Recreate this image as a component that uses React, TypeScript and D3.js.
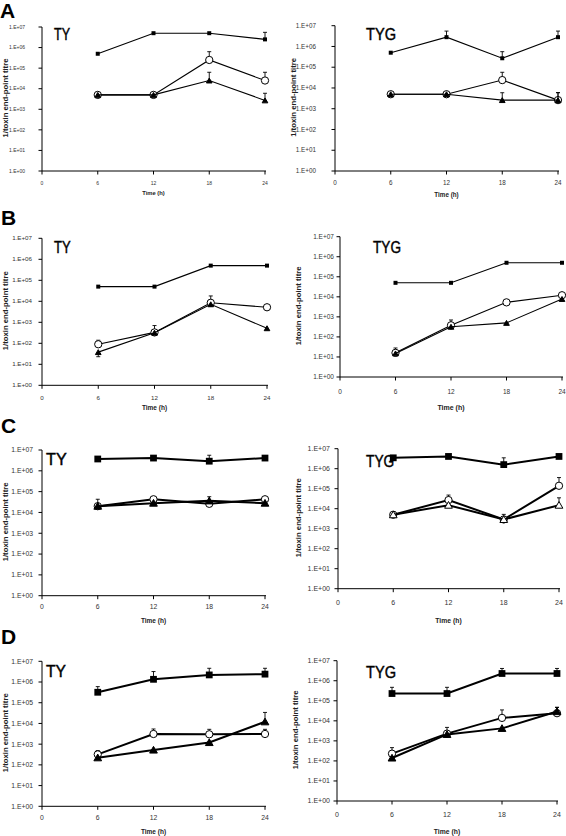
import React from "react";
import * as d3 from "d3";

// ---------- data ----------
const times = [6, 12, 18, 24];
const xTicks = [0, 6, 12, 18, 24];
const yTickExps = [0, 1, 2, 3, 4, 5, 6, 7];
const yTickLabels = ["1.E+00", "1.E+01", "1.E+02", "1.E+03", "1.E+04", "1.E+05", "1.E+06", "1.E+07"];

// Panel A
const A_TY_sq = [5e5, 5e6, 5e6, 2.5e6];
const A_TY_sqErr = [null, null, null, 5.5e6];
const A_TY_ci = [5e3, 5e3, 2.5e5, 2.5e4];
const A_TY_ciErr = [null, null, 6.3e5, 6.3e4];
const A_TY_tr = [5e3, 5e3, 2.5e4, 2.7e3];
const A_TY_trErr = [null, null, 6.3e4, 6e3];

const A_TYG_sq = [5e5, 2.8e6, 2.7e5, 2.8e6];
const A_TYG_sqErr = [null, 5.5e6, 5.6e5, 5.5e6];
const A_TYG_ci = [5e3, 5e3, 2.4e4, 2.6e3];
const A_TYG_ciErr = [null, null, 5.7e4, 6e3];
const A_TYG_tr = [5e3, 5e3, 2.6e3, 2.6e3];
const A_TYG_trErr = [null, null, 5.9e3, 5.9e3];

// Panel B
const B_TY_sq = [5e4, 5e4, 5e5, 5e5];
const B_TY_sqErr = [null, null, null, null];
const B_TY_ci = [9e1, 3.3e2, 8.5e3, 5.2e3];
const B_TY_ciErr = [1.4e2, 7e2, 1.8e4, null];
const B_TY_tr = [3.8e1, 3.2e2, 7.2e3, 5.2e2];
const B_TY_trErr = [2.3e1, null, null, null];

const B_TYG_sq = [5e4, 5e4, 5e5, 5e5];
const B_TYG_sqErr = [null, null, null, null];
const B_TYG_ci = [1.6e1, 3.8e2, 5.3e3, 1.2e4];
const B_TYG_ciErr = [2.8e1, 7e2, null, 1.6e4];
const B_TYG_tr = [1.5e1, 3.2e2, 5e2, 7.8e3];
const B_TYG_trErr = [null, null, null, null];

// Panel C
const C_TY_sq = [3.7e6, 4.1e6, 2.9e6, 4.1e6];
const C_TY_sqErr = [null, null, 5.6e6, null];
const C_TY_ci = [2e4, 4.3e4, 2.6e4, 4.3e4];
const C_TY_ciErr = [null, null, null, null];
const C_TY_tr = [2e4, 2.8e4, 3.6e4, 2.8e4];
const C_TY_trErr = [4.3e4, null, 5.7e4, null];

const C_TYG_sq = [3.5e6, 4.1e6, 1.6e6, 4.1e6];
const C_TYG_sqErr = [null, null, 3.5e6, null];
const C_TYG_ci = [5e3, 2.7e4, 2.9e3, 1.4e5];
const C_TYG_ciErr = [null, 4.8e4, 5.2e3, 3.6e5];
const C_TYG_tr = [5e3, 1.5e4, 2.9e3, 1.5e4];
const C_TYG_trErr = [null, null, null, 3.5e4];

// Panel D
const D_TY_sq = [3.2e5, 1.35e6, 2.2e6, 2.4e6];
const D_TY_sqErr = [6e5, 3.2e6, 4.6e6, 4.6e6];
const D_TY_ci = [3.2e2, 3.1e3, 3e3, 3.1e3];
const D_TY_ciErr = [4.9e2, 5.4e3, 5.2e3, 5.2e3];
const D_TY_tr = [2.2e2, 5.2e2, 1.2e3, 1.2e4];
const D_TY_trErr = [null, null, null, 3.4e4];

const D_TYG_sq = [2.3e5, 2.3e5, 2.3e6, 2.3e6];
const D_TYG_sqErr = [4.7e5, 4.7e5, 4.1e6, 4.1e6];
const D_TYG_ci = [2.3e2, 2.3e3, 1.4e4, 2.4e4];
const D_TYG_ciErr = [4.6e2, 4.7e3, 3.5e4, 4.7e4];
const D_TYG_tr = [1.4e2, 2.1e3, 4.2e3, 2.9e4];
const D_TYG_trErr = [null, null, null, 4.7e4];

const panelLetters = ["A", "B", "C", "D"];
const xTitle = "Time (h)";
const yTitle = "1/toxin end-point titre";

// ---------- layout ----------
type Panel = {
  title: string;
  x0: number; x1: number; yTop: number; yBot: number;
  labelRight: number; tickFont: number; xLabelY: number; timeY: number; timeFont: number;
  yLabelX: number; titleX: number; titleY: number; titleW: number;
  big: boolean; openTri: boolean;
  sq: number[]; sqErr: (number | null)[];
  ci: number[]; ciErr: (number | null)[];
  tr: number[]; trErr: (number | null)[];
};

const panels: Panel[] = [
  { title: "TY", x0: 42, x1: 265, yTop: 27, yBot: 171, labelRight: 25, tickFont: 5, xLabelY: 184.5, timeY: 195, timeFont: 5.8, yLabelX: 8.3, titleX: 54, titleY: 40, titleW: 16, big: false, openTri: false,
    sq: A_TY_sq, sqErr: A_TY_sqErr, ci: A_TY_ci, ciErr: A_TY_ciErr, tr: A_TY_tr, trErr: A_TY_trErr },
  { title: "TYG", x0: 335, x1: 558, yTop: 25.7, yBot: 171, labelRight: 316, tickFont: 6.3, xLabelY: 185, timeY: 196.5, timeFont: 6.3, yLabelX: 296, titleX: 366, titleY: 40, titleW: 30, big: false, openTri: false,
    sq: A_TYG_sq, sqErr: A_TYG_sqErr, ci: A_TYG_ci, ciErr: A_TYG_ciErr, tr: A_TYG_tr, trErr: A_TYG_trErr },
  { title: "TY", x0: 42, x1: 267, yTop: 238.3, yBot: 385.3, labelRight: 32, tickFont: 6.2, xLabelY: 400, timeY: 409.5, timeFont: 6.5, yLabelX: 8.3, titleX: 54, titleY: 253, titleW: 16.7, big: false, openTri: false,
    sq: B_TY_sq, sqErr: B_TY_sqErr, ci: B_TY_ci, ciErr: B_TY_ciErr, tr: B_TY_tr, trErr: B_TY_trErr },
  { title: "TYG", x0: 340, x1: 562, yTop: 236.7, yBot: 377, labelRight: 334, tickFont: 6.5, xLabelY: 394, timeY: 410, timeFont: 7, yLabelX: 301, titleX: 373, titleY: 253, titleW: 28, big: false, openTri: false,
    sq: B_TYG_sq, sqErr: B_TYG_sqErr, ci: B_TYG_ci, ciErr: B_TYG_ciErr, tr: B_TYG_tr, trErr: B_TYG_trErr },
  { title: "TY", x0: 42, x1: 265, yTop: 450, yBot: 595.7, labelRight: 33, tickFont: 6.8, xLabelY: 609, timeY: 623, timeFont: 6.5, yLabelX: 8.3, titleX: 46, titleY: 465, titleW: 20.7, big: true, openTri: false,
    sq: C_TY_sq, sqErr: C_TY_sqErr, ci: C_TY_ci, ciErr: C_TY_ciErr, tr: C_TY_tr, trErr: C_TY_trErr },
  { title: "TYG", x0: 338, x1: 559, yTop: 448.7, yBot: 588.7, labelRight: 330, tickFont: 7, xLabelY: 605, timeY: 622.5, timeFont: 6.8, yLabelX: 301, titleX: 366, titleY: 467, titleW: 28.3, big: true, openTri: true,
    sq: C_TYG_sq, sqErr: C_TYG_sqErr, ci: C_TYG_ci, ciErr: C_TYG_ciErr, tr: C_TYG_tr, trErr: C_TYG_trErr },
  { title: "TY", x0: 42, x1: 265, yTop: 661.3, yBot: 806.3, labelRight: 33, tickFont: 6.8, xLabelY: 820, timeY: 833.5, timeFont: 6.5, yLabelX: 8.3, titleX: 46, titleY: 677, titleW: 20, big: true, openTri: false,
    sq: D_TY_sq, sqErr: D_TY_sqErr, ci: D_TY_ci, ciErr: D_TY_ciErr, tr: D_TY_tr, trErr: D_TY_trErr },
  { title: "TYG", x0: 337, x1: 557, yTop: 660.7, yBot: 801, labelRight: 330, tickFont: 7, xLabelY: 817, timeY: 834, timeFont: 6.8, yLabelX: 298, titleX: 366, titleY: 678, titleW: 30, big: true, openTri: false,
    sq: D_TYG_sq, sqErr: D_TYG_sqErr, ci: D_TYG_ci, ciErr: D_TYG_ciErr, tr: D_TYG_tr, trErr: D_TYG_trErr },
];

const letterPos = [
  { x: 0, y: 18 },
  { x: 1, y: 225 },
  { x: 1, y: 433 },
  { x: 1, y: 644 },
];

const FONT = "'Liberation Sans', Arial, sans-serif";

function Series({ p, vals, errs, kind, x, y }: any) {
  const pts = times.map((t, i) => [x(t), y(vals[i])] as [number, number]);
  const line = d3.line()(pts) || "";
  const lw = p.big ? 2 : 1.1;
  let type = d3.symbolSquare;
  let size = p.big ? 46 : 16;
  let fill = "#000";
  if (kind === "ci") { type = d3.symbolCircle; size = 42; fill = "#fff"; }
  if (kind === "tr") { type = d3.symbolTriangle; size = p.big ? 26 : 14; fill = p.openTri ? "#fff" : "#000"; }
  const sym = d3.symbol().type(type).size(size)() || "";
  return (
    <g>
      <path d={line} fill="none" stroke="#000" strokeWidth={lw} />
      {errs.map((e: number | null, i: number) =>
        e == null ? null : (
          <g key={i}>
            <line x1={x(times[i])} x2={x(times[i])} y1={y(vals[i])} y2={y(e)} stroke="#000" strokeWidth={0.9} />
            <line x1={x(times[i]) - 2} x2={x(times[i]) + 2} y1={y(e)} y2={y(e)} stroke="#000" strokeWidth={0.9} />
          </g>
        )
      )}
      {pts.map((pt, i) => (
        <path key={i} d={sym} transform={`translate(${pt[0]},${pt[1] + (kind === "tr" ? 0.8 : 0)})`} fill={fill} stroke="#000" strokeWidth={kind === "sq" ? 0 : 1} />
      ))}
    </g>
  );
}

function PanelView({ p }: { p: Panel }) {
  const x = d3.scaleLinear().domain([0, 24]).range([p.x0, p.x1]);
  const y = d3.scaleLog().domain([1, 1e7]).range([p.yBot, p.yTop]);
  const midY = (p.yTop + p.yBot) / 2 - 1;
  return (
    <g fontFamily={FONT}>
      {/* title */}
      <text x={p.titleX} y={p.titleY} fontSize={17} textLength={p.titleW} lengthAdjust="spacingAndGlyphs" fill="#000" stroke="#000" strokeWidth={0.45}>{p.title}</text>
      {/* axes */}
      <line x1={p.x0} x2={p.x0} y1={p.yTop} y2={p.yBot} stroke="#000" strokeWidth={1} />
      <line x1={p.x0} x2={p.x1 + 1} y1={p.yBot} y2={p.yBot} stroke="#000" strokeWidth={1} />
      {yTickExps.map((e, i) => (
        <g key={e}>
          <line x1={p.x0 - 3.5} x2={p.x0} y1={y(Math.pow(10, e))} y2={y(Math.pow(10, e))} stroke="#000" strokeWidth={1} />
          <text x={p.labelRight} y={y(Math.pow(10, e)) + p.tickFont * 0.35} fontSize={p.tickFont} textAnchor="end" fill="#333">{yTickLabels[i]}</text>
        </g>
      ))}
      {xTicks.map((t) => (
        <g key={t}>
          <line x1={x(t)} x2={x(t)} y1={p.yBot} y2={p.yBot + 3.5} stroke="#000" strokeWidth={1} />
          <text x={x(t)} y={p.xLabelY} fontSize={p.tickFont} textAnchor="middle" fill="#333">{t}</text>
        </g>
      ))}
      <text x={(p.x0 + p.x1) / 2} y={p.timeY} fontSize={p.timeFont} fontWeight="bold" textAnchor="middle" fill="#222">{xTitle}</text>
      <text transform={`translate(${p.yLabelX},${midY}) rotate(-90)`} fontSize={7.4} fontWeight="bold" textAnchor="middle" textLength={79} lengthAdjust="spacingAndGlyphs" fill="#222">{yTitle}</text>
      {/* series */}
      <Series p={p} vals={p.sq} errs={p.sqErr} kind="sq" x={x} y={y} />
      <Series p={p} vals={p.ci} errs={p.ciErr} kind="ci" x={x} y={y} />
      <Series p={p} vals={p.tr} errs={p.trErr} kind="tr" x={x} y={y} />
    </g>
  );
}

export default function App() {
  return (
    <svg width={566} height={836} style={{ position: "absolute", left: 0, top: 0, background: "#fff" }}>
      <rect width={566} height={836} fill="#fff" />
      {panelLetters.map((l, i) => (
        <text key={l} x={letterPos[i].x} y={letterPos[i].y} fontFamily={FONT} fontSize={21} fontWeight="bold">{l}</text>
      ))}
      {panels.map((p, i) => (
        <PanelView key={i} p={p} />
      ))}
    </svg>
  );
}
